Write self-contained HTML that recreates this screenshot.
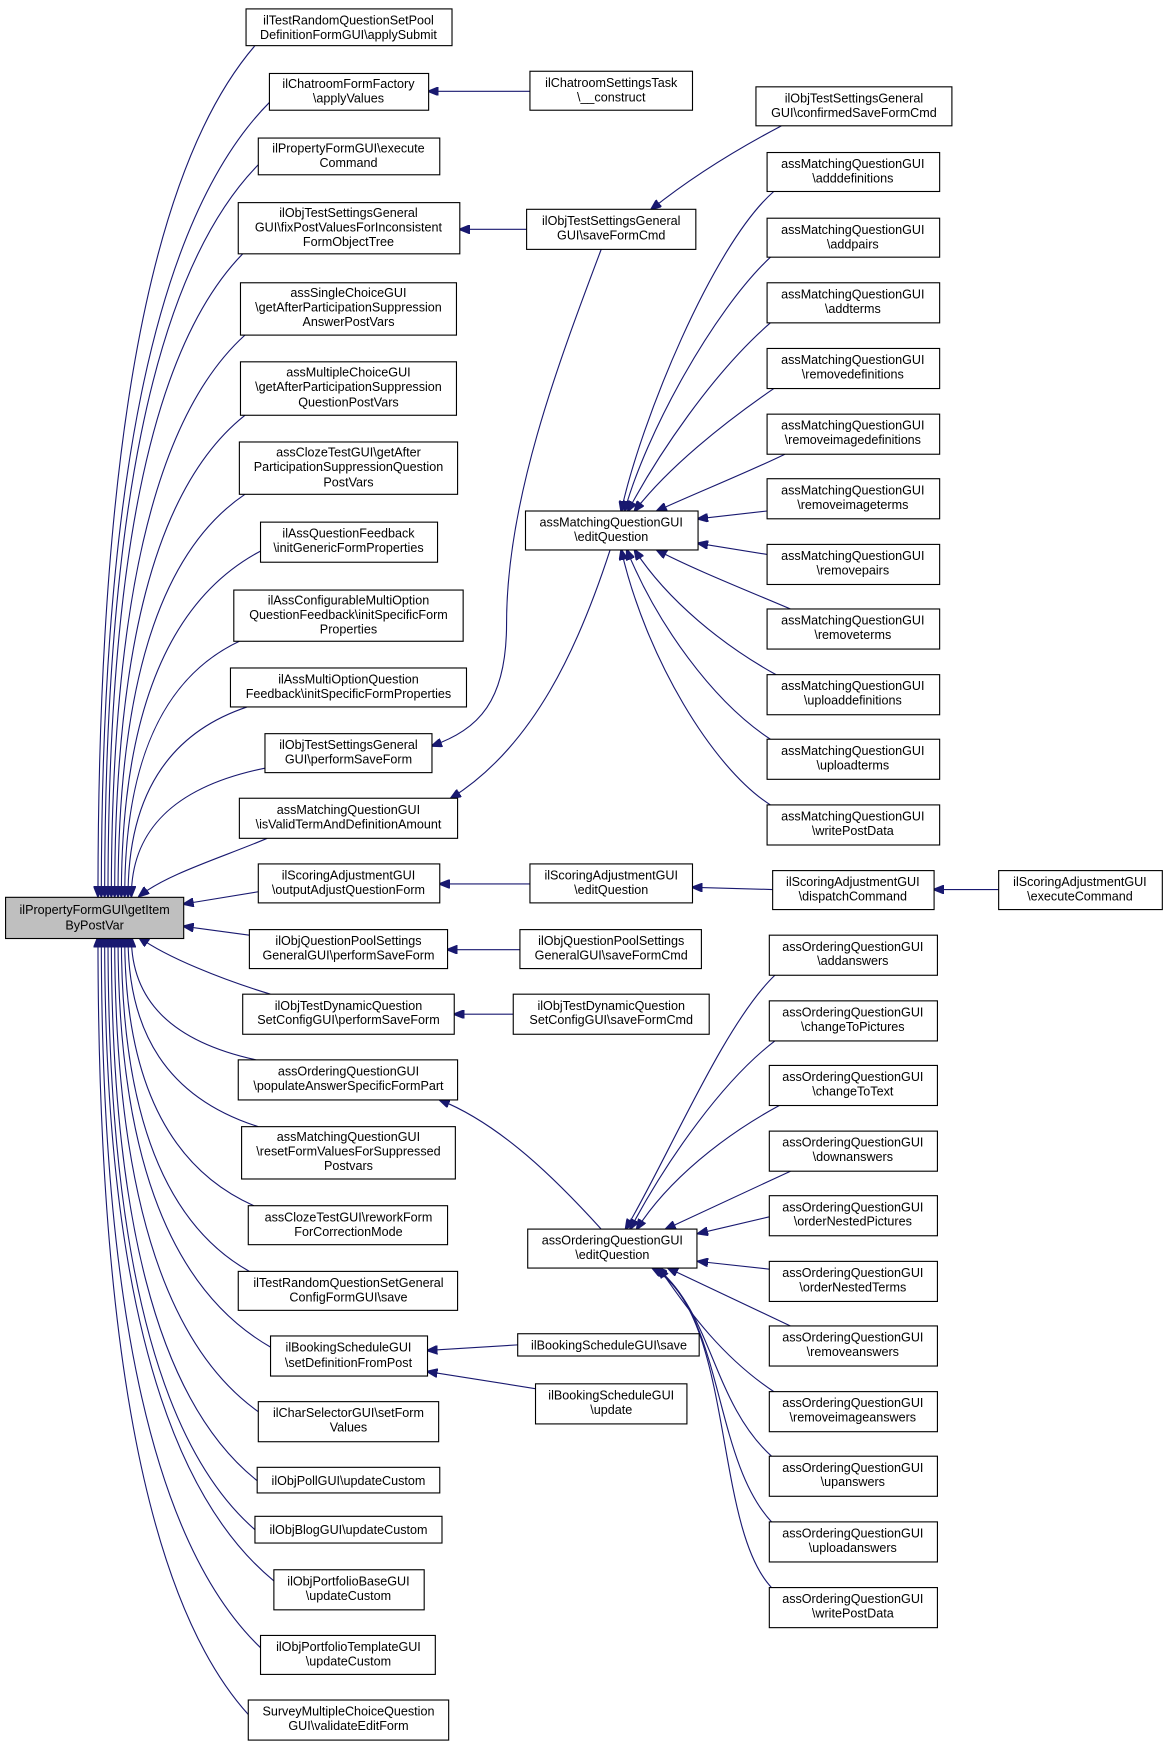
<!DOCTYPE html>
<html><head><meta charset="utf-8"><style>
html,body{margin:0;padding:0;background:#fff;}
svg{display:block;}
text{font-family:"Liberation Sans",Arial,sans-serif;font-size:11.3px;fill:#000;text-anchor:middle;}
rect{fill:#fff;stroke:#000;stroke-width:1;}
path{fill:none;stroke:#191970;stroke-width:1;}
</style></head><body>
<svg width="1169" height="1749" viewBox="0 0 1050 1571" preserveAspectRatio="none" xmlns="http://www.w3.org/2000/svg">
<defs><marker id="a" markerWidth="10" markerHeight="8" refX="9" refY="4" orient="auto" markerUnits="userSpaceOnUse"><polygon points="0,0 10,4 0,8" fill="#191970" stroke="#191970"/></marker></defs>
<g marker-end="url(#a)">
<path d="M229,41 C130,156 88,423 88,805"/>
<path d="M242,92 C136,199 91,448 91,805"/>
<path d="M232,148 C135,247 94,476 94,805"/>
<path d="M218,228 C133,315 97,516 97,805"/>
<path d="M220,301 C136,377 100,553 100,805"/>
<path d="M220,373 C138,438 103,589 103,805"/>
<path d="M220,444 C140,498 106,624 106,805"/>
<path d="M234,495 C147,541 109,650 109,805"/>
<path d="M215,576 C143,610 112,690 112,805"/>
<path d="M222,635 C147,660 115,720 115,805"/>
<path d="M238,690 C154,707 118,748 118,805"/>
<path d="M240,753 C200,770 150,785 125,805"/>
<path d="M232,801 L165,812"/>
<path d="M224,840 L165,832"/>
<path d="M243,893 C200,880 150,860 125,842"/>
<path d="M230,952 C152,935 118,897 118,842"/>
<path d="M232,1012 C150,986 115,927 115,842"/>
<path d="M228,1083 C147,1047 112,962 112,842"/>
<path d="M224,1142 C144,1097 109,992 109,842"/>
<path d="M243,1210 C147,1155 106,1026 106,842"/>
<path d="M232,1268 C142,1204 103,1055 103,842"/>
<path d="M231,1330 C139,1257 100,1086 100,842"/>
<path d="M229,1374 C137,1294 97,1108 97,842"/>
<path d="M246,1420 C140,1333 94,1131 94,842"/>
<path d="M234,1480 C134,1384 91,1161 91,842"/>
<path d="M223,1540 C128,1435 88,1191 88,842"/>
<path d="M476,82 L385,82"/>
<path d="M473,206 L413,206"/>
<path d="M702,113 C660,135 620,160 585,188"/>
<path d="M540,224 C500,330 455,450 455,560 C455,630 430,655 388,670"/>
<path d="M548,494 C520,580 480,670 405,717"/>
<path d="M695,172 C640,220 575,380 558,459"/>
<path d="M692,231 C640,280 580,390 561,459"/>
<path d="M692,290 C640,335 590,410 564,459"/>
<path d="M695,349 C650,380 600,420 570,459"/>
<path d="M705,408 C670,425 620,445 590,459"/>
<path d="M689,459 L627,466"/>
<path d="M689,498 L627,488"/>
<path d="M710,547 C670,530 620,510 590,494"/>
<path d="M697,606 C650,580 600,540 570,494"/>
<path d="M692,664 C640,630 590,560 563,494"/>
<path d="M692,723 C640,690 580,590 558,494"/>
<path d="M476,794 L395,794"/>
<path d="M694,799 L622,797"/>
<path d="M897,799 L839,799"/>
<path d="M467,853 L402,853"/>
<path d="M461,911 L408,911"/>
<path d="M540,1104 C500,1060 450,1010 395,988"/>
<path d="M696,876 C650,920 600,1040 562,1104"/>
<path d="M696,935 C650,970 600,1040 566,1104"/>
<path d="M700,993 C650,1020 600,1060 572,1104"/>
<path d="M710,1052 L598,1104"/>
<path d="M691,1093 L627,1108"/>
<path d="M691,1140 L627,1133"/>
<path d="M710,1191 L600,1139"/>
<path d="M695,1250 C650,1220 620,1180 592,1139"/>
<path d="M693,1308 C640,1260 640,1180 590,1139"/>
<path d="M693,1367 C640,1310 650,1180 588,1139"/>
<path d="M693,1426 C640,1370 660,1180 586,1139"/>
<path d="M465,1208 L384,1213"/>
<path d="M485,1248 L384,1232"/>
</g>

<rect x="5" y="806" width="160" height="37" style="fill:#bfbfbf"/>
<text x="85" y="821">ilPropertyFormGUI\getItem</text><text x="85" y="835">ByPostVar</text>

<rect x="221" y="8" width="185" height="33"/><text x="313" y="22">ilTestRandomQuestionSetPool</text><text x="313" y="35">DefinitionFormGUI\applySubmit</text>
<rect x="242" y="66" width="143" height="33"/><text x="313" y="79">ilChatroomFormFactory</text><text x="313" y="92">\applyValues</text>
<rect x="232" y="124" width="163" height="33"/><text x="313" y="137">ilPropertyFormGUI\execute</text><text x="313" y="150">Command</text>
<rect x="214" y="182" width="199" height="46"/><text x="313" y="195">ilObjTestSettingsGeneral</text><text x="313" y="208">GUI\fixPostValuesForInconsistent</text><text x="313" y="221">FormObjectTree</text>
<rect x="216" y="254" width="194" height="47"/><text x="313" y="267">assSingleChoiceGUI</text><text x="313" y="280">\getAfterParticipationSuppression</text><text x="313" y="293">AnswerPostVars</text>
<rect x="216" y="325" width="194" height="48"/><text x="313" y="338">assMultipleChoiceGUI</text><text x="313" y="351">\getAfterParticipationSuppression</text><text x="313" y="365">QuestionPostVars</text>
<rect x="215" y="397" width="196" height="47"/><text x="313" y="410">assClozeTestGUI\getAfter</text><text x="313" y="423">ParticipationSuppressionQuestion</text><text x="313" y="437">PostVars</text>
<rect x="234" y="469" width="159" height="36"/><text x="313" y="483">ilAssQuestionFeedback</text><text x="313" y="496">\initGenericFormProperties</text>
<rect x="210" y="530" width="206" height="46"/><text x="313" y="543">ilAssConfigurableMultiOption</text><text x="313" y="556">QuestionFeedback\initSpecificForm</text><text x="313" y="569">Properties</text>
<rect x="207" y="600" width="212" height="35"/><text x="313" y="614">ilAssMultiOptionQuestion</text><text x="313" y="627">Feedback\initSpecificFormProperties</text>
<rect x="238" y="659" width="150" height="35"/><text x="313" y="673">ilObjTestSettingsGeneral</text><text x="313" y="686">GUI\performSaveForm</text>
<rect x="215" y="717" width="196" height="36"/><text x="313" y="731">assMatchingQuestionGUI</text><text x="313" y="744">\isValidTermAndDefinitionAmount</text>
<rect x="232" y="776" width="163" height="35"/><text x="313" y="790">ilScoringAdjustmentGUI</text><text x="313" y="803">\outputAdjustQuestionForm</text>
<rect x="224" y="835" width="178" height="35"/><text x="313" y="849">ilObjQuestionPoolSettings</text><text x="313" y="862">GeneralGUI\performSaveForm</text>
<rect x="218" y="893" width="190" height="36"/><text x="313" y="907">ilObjTestDynamicQuestion</text><text x="313" y="920">SetConfigGUI\performSaveForm</text>
<rect x="214" y="952" width="197" height="36"/><text x="313" y="966">assOrderingQuestionGUI</text><text x="313" y="979">\populateAnswerSpecificFormPart</text>
<rect x="217" y="1012" width="192" height="47"/><text x="313" y="1025">assMatchingQuestionGUI</text><text x="313" y="1038">\resetFormValuesForSuppressed</text><text x="313" y="1051">Postvars</text>
<rect x="223" y="1083" width="179" height="35"/><text x="313" y="1097">assClozeTestGUI\reworkForm</text><text x="313" y="1110">ForCorrectionMode</text>
<rect x="214" y="1142" width="197" height="35"/><text x="313" y="1156">ilTestRandomQuestionSetGeneral</text><text x="313" y="1169">ConfigFormGUI\save</text>
<rect x="243" y="1200" width="141" height="36"/><text x="313" y="1214">ilBookingScheduleGUI</text><text x="313" y="1228">\setDefinitionFromPost</text>
<rect x="232" y="1259" width="162" height="36"/><text x="313" y="1273">ilCharSelectorGUI\setForm</text><text x="313" y="1286">Values</text>
<rect x="231" y="1318" width="164" height="23"/><text x="313" y="1334">ilObjPollGUI\updateCustom</text>
<rect x="229" y="1362" width="168" height="24"/><text x="313" y="1378">ilObjBlogGUI\updateCustom</text>
<rect x="246" y="1410" width="135" height="36"/><text x="313" y="1424">ilObjPortfolioBaseGUI</text><text x="313" y="1437">\updateCustom</text>
<rect x="234" y="1469" width="157" height="35"/><text x="313" y="1483">ilObjPortfolioTemplateGUI</text><text x="313" y="1496">\updateCustom</text>
<rect x="223" y="1527" width="180" height="36"/><text x="313" y="1541">SurveyMultipleChoiceQuestion</text><text x="313" y="1554">GUI\validateEditForm</text>

<rect x="476" y="64" width="146" height="35"/><text x="549" y="78">ilChatroomSettingsTask</text><text x="549" y="91">\__construct</text>
<rect x="473" y="188" width="152" height="36"/><text x="549" y="202">ilObjTestSettingsGeneral</text><text x="549" y="215">GUI\saveFormCmd</text>
<rect x="472" y="459" width="155" height="35"/><text x="549" y="473">assMatchingQuestionGUI</text><text x="549" y="486">\editQuestion</text>
<rect x="476" y="776" width="146" height="35"/><text x="549" y="790">ilScoringAdjustmentGUI</text><text x="549" y="803">\editQuestion</text>
<rect x="467" y="835" width="163" height="35"/><text x="549" y="849">ilObjQuestionPoolSettings</text><text x="549" y="862">GeneralGUI\saveFormCmd</text>
<rect x="461" y="893" width="176" height="36"/><text x="549" y="907">ilObjTestDynamicQuestion</text><text x="549" y="920">SetConfigGUI\saveFormCmd</text>
<rect x="474" y="1104" width="152" height="35"/><text x="550" y="1118">assOrderingQuestionGUI</text><text x="550" y="1131">\editQuestion</text>
<rect x="465" y="1198" width="163" height="20"/><text x="547" y="1212">ilBookingScheduleGUI\save</text>
<rect x="481" y="1243" width="136" height="36"/><text x="549" y="1257">ilBookingScheduleGUI</text><text x="549" y="1270">\update</text>

<rect x="679" y="78" width="176" height="35"/><text x="767" y="92">ilObjTestSettingsGeneral</text><text x="767" y="105">GUI\confirmedSaveFormCmd</text>

<rect x="689" y="137" width="155" height="35"/><text x="766" y="151">assMatchingQuestionGUI</text><text x="766" y="164">\adddefinitions</text>
<rect x="689" y="196" width="155" height="35"/><text x="766" y="210">assMatchingQuestionGUI</text><text x="766" y="223">\addpairs</text>
<rect x="689" y="254" width="155" height="36"/><text x="766" y="268">assMatchingQuestionGUI</text><text x="766" y="281">\addterms</text>
<rect x="689" y="313" width="155" height="36"/><text x="766" y="327">assMatchingQuestionGUI</text><text x="766" y="340">\removedefinitions</text>
<rect x="689" y="372" width="155" height="36"/><text x="766" y="386">assMatchingQuestionGUI</text><text x="766" y="399">\removeimagedefinitions</text>
<rect x="689" y="430" width="155" height="36"/><text x="766" y="444">assMatchingQuestionGUI</text><text x="766" y="457">\removeimageterms</text>
<rect x="689" y="489" width="155" height="36"/><text x="766" y="503">assMatchingQuestionGUI</text><text x="766" y="516">\removepairs</text>
<rect x="689" y="547" width="155" height="36"/><text x="766" y="561">assMatchingQuestionGUI</text><text x="766" y="574">\removeterms</text>
<rect x="689" y="606" width="155" height="36"/><text x="766" y="620">assMatchingQuestionGUI</text><text x="766" y="633">\uploaddefinitions</text>
<rect x="689" y="664" width="155" height="36"/><text x="766" y="678">assMatchingQuestionGUI</text><text x="766" y="691">\uploadterms</text>
<rect x="689" y="723" width="155" height="36"/><text x="766" y="737">assMatchingQuestionGUI</text><text x="766" y="750">\writePostData</text>

<rect x="694" y="782" width="145" height="35"/><text x="766" y="796">ilScoringAdjustmentGUI</text><text x="766" y="809">\dispatchCommand</text>
<rect x="897" y="782" width="147" height="35"/><text x="970" y="796">ilScoringAdjustmentGUI</text><text x="970" y="809">\executeCommand</text>

<rect x="691" y="840" width="151" height="36"/><text x="766" y="854">assOrderingQuestionGUI</text><text x="766" y="867">\addanswers</text>
<rect x="691" y="899" width="151" height="36"/><text x="766" y="913">assOrderingQuestionGUI</text><text x="766" y="926">\changeToPictures</text>
<rect x="691" y="957" width="151" height="36"/><text x="766" y="971">assOrderingQuestionGUI</text><text x="766" y="984">\changeToText</text>
<rect x="691" y="1016" width="151" height="36"/><text x="766" y="1030">assOrderingQuestionGUI</text><text x="766" y="1043">\downanswers</text>
<rect x="691" y="1074" width="151" height="36"/><text x="766" y="1088">assOrderingQuestionGUI</text><text x="766" y="1101">\orderNestedPictures</text>
<rect x="691" y="1133" width="151" height="36"/><text x="766" y="1147">assOrderingQuestionGUI</text><text x="766" y="1160">\orderNestedTerms</text>
<rect x="691" y="1191" width="151" height="36"/><text x="766" y="1205">assOrderingQuestionGUI</text><text x="766" y="1218">\removeanswers</text>
<rect x="691" y="1250" width="151" height="36"/><text x="766" y="1264">assOrderingQuestionGUI</text><text x="766" y="1277">\removeimageanswers</text>
<rect x="691" y="1308" width="151" height="36"/><text x="766" y="1322">assOrderingQuestionGUI</text><text x="766" y="1335">\upanswers</text>
<rect x="691" y="1367" width="151" height="36"/><text x="766" y="1381">assOrderingQuestionGUI</text><text x="766" y="1394">\uploadanswers</text>
<rect x="691" y="1426" width="151" height="36"/><text x="766" y="1440">assOrderingQuestionGUI</text><text x="766" y="1453">\writePostData</text>
</svg>
</body></html>
